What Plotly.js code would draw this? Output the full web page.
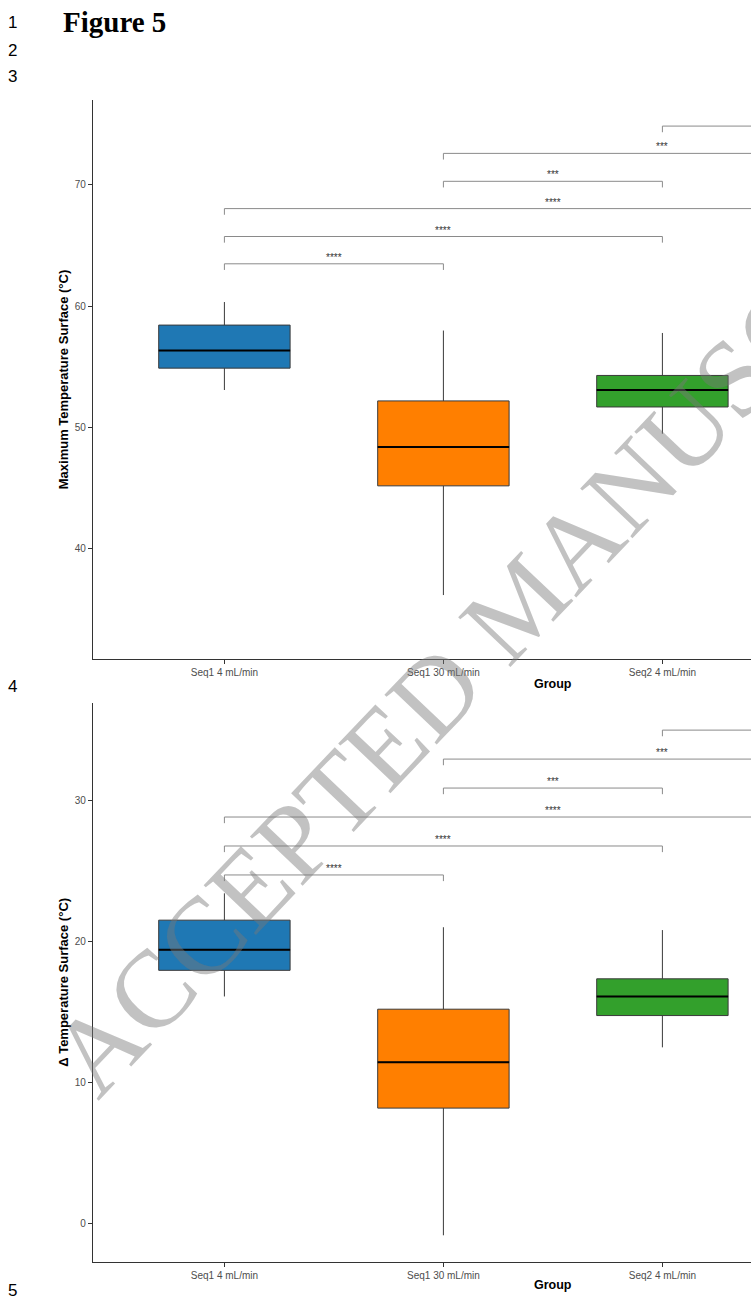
<!DOCTYPE html>
<html><head><meta charset="utf-8">
<script src="https://cdn.plot.ly/plotly-3.0.1.min.js"></script>
<style>html,body{margin:0;padding:0;background:#fff;overflow:hidden}#chart{width:751px;height:1299px}</style>
</head><body><div id="chart"></div>
<script>
// ---------- data ----------
const groups = ["Seq1 4 mL/min", "Seq1 30 mL/min", "Seq2 4 mL/min", "Seq2 30 mL/min"];
const groupColors = ["#1F78B4", "#FF7F00", "#33A02C", "#E31A1C"];

// Panel 1: Maximum Temperature Surface (°C) – box statistics (visible groups)
const maxLower  = [53.1, 36.2, 49.5];
const maxQ1     = [54.9, 45.2, 51.7];
const maxMedian = [56.35, 48.4, 53.1];
const maxQ3     = [58.45, 52.2, 54.3];
const maxUpper  = [60.35, 58.0, 57.8];

// Panel 2: Δ Temperature Surface (°C)
const dLower  = [16.1, -0.8, 12.5];
const dQ1     = [17.95, 8.2, 14.75];
const dMedian = [19.4, 11.45, 16.1];
const dQ3     = [21.5, 15.2, 17.35];
const dUpper  = [23.4, 21.0, 20.8];

// pairwise comparisons (indices into groups)
const cmpGroup1 = [0, 0, 0, 1, 1, 2];
const cmpGroup2 = [1, 2, 3, 2, 3, 3];
const cmpLabels = ["****", "****", "****", "***", "***", ""];   // last label lies outside the visible area
const maxCmpY   = [63.5, 65.75, 68.05, 70.3, 72.6, 74.85];
const dCmpY     = [24.7, 26.75, 28.8, 30.85, 32.9, 34.95];

const maxTicks = [40, 50, 60, 70];
const dTicks   = [0, 10, 20, 30];
const maxRange = [30.93, 77.0];
const dRange   = [-2.69, 36.89];

// ---------- layout geometry ----------
const W = 751, H = 1299, ML = 93, MR = 0, MT = 100, MB = 37;
const PW = W - ML - MR, PH = H - MT - MB;
const px2x = p => (p - ML) / PW;
const px2y = p => 1 - (p - MT) / PH;
const catPx = 219;                       // pixels per category
const xRange = [-0.6, -0.6 + PW / catPx];
const BOX_W = 0.6;
const FONT = "Liberation Sans, Arial, sans-serif";
const SERIF = "Liberation Serif, Times New Roman, serif";

function panel(ax, lower, q1, med, q3, upper) {
  const xa = ax === 1 ? "x" : "x2", ya = ax === 1 ? "y" : "y2";
  const traces = [];
  for (let i = 0; i < med.length; i++) {
    traces.push({
      type: "box", x: [i], q1: [q1[i]], median: [med[i]], q3: [q3[i]],
      lowerfence: [lower[i]], upperfence: [upper[i]],
      width: BOX_W, whiskerwidth: 0, fillcolor: groupColors[i],
      line: {color: "#3a3a3a", width: 1}, boxpoints: false,
      xaxis: xa, yaxis: ya, hoverinfo: "skip", showlegend: false
    });
  }
  const mx = [], my = [];
  med.forEach((m, i) => { mx.push(i - BOX_W / 2, i + BOX_W / 2, null); my.push(m, m, null); });
  traces.push({type: "scatter", mode: "lines", x: mx, y: my, xaxis: xa, yaxis: ya,
    line: {color: "#000", width: 2}, hoverinfo: "skip", showlegend: false});
  return traces;
}

const data = [
  ...panel(1, maxLower, maxQ1, maxMedian, maxQ3, maxUpper),
  ...panel(2, dLower, dQ1, dMedian, dQ3, dUpper)
];

const shapes = [], annotations = [];
function brackets(ax, levels, range) {
  const xa = ax === 1 ? "x" : "x2", ya = ax === 1 ? "y" : "y2";
  const tip = (range[1] - range[0]) * 0.011;
  for (let k = 0; k < levels.length; k++) {
    const a = cmpGroup1[k], b = cmpGroup2[k], y = levels[k];
    shapes.push({type: "path", xref: xa, yref: ya, layer: "above",
      path: `M ${a},${y - tip} L ${a},${y} L ${b},${y} L ${b},${y - tip}`,
      line: {color: "#8a8a8a", width: 1}});
    if (cmpLabels[k]) {
      annotations.push({xref: xa, yref: ya, x: (a + b) / 2, y: y, xanchor: "center", yanchor: "bottom", yshift: -1,
        text: cmpLabels[k], showarrow: false, font: {family: FONT, size: 10, color: "#333"}});
    }
  }
}
brackets(1, maxCmpY, maxRange);
brackets(2, dCmpY, dRange);

// x-axis titles (centred on the full category span)
const xMid = (-0.6 + (groups.length - 1) + 0.6) / 2;
annotations.push({xref: "x", yref: "paper", x: xMid, y: px2y(684), xanchor: "center", yanchor: "middle",
  text: "Group", showarrow: false, font: {family: FONT, size: 12.5, color: "#000", weight: "bold"}});
annotations.push({xref: "x2", yref: "paper", x: xMid, y: px2y(1285), xanchor: "center", yanchor: "middle",
  text: "Group", showarrow: false, font: {family: FONT, size: 12.5, color: "#000", weight: "bold"}});

// page furniture: line numbers and figure title
const lineNums = ["1", "2", "3", "4", "5"];
const lineNumY = [22, 50, 77, 686, 1290];
lineNums.forEach((t, i) => annotations.push({xref: "paper", yref: "paper", x: px2x(12), y: px2y(lineNumY[i]),
  xanchor: "center", yanchor: "middle", text: t, showarrow: false, font: {family: FONT, size: 17, color: "#000"}}));
annotations.push({xref: "paper", yref: "paper", x: px2x(61), y: px2y(22), xanchor: "left", yanchor: "middle",
  text: "<b>Figure 5</b>", showarrow: false, font: {family: SERIF, size: 29, color: "#000"}});

// watermark
annotations.push({xref: "paper", yref: "paper", x: px2x(520), y: px2y(603), xanchor: "center", yanchor: "middle",
  text: "ACCEPTED MANUSCRIPT", textangle: -46.5, showarrow: false,
  font: {family: SERIF, size: 110, color: "rgba(120,120,120,0.45)"}});

const xaxisBase = {
  range: xRange, tickvals: groups.map((g, i) => i), ticktext: groups,
  showline: true, linecolor: "#333", linewidth: 1.2, ticks: "outside", ticklen: 4, tickwidth: 1, tickcolor: "#333",
  showgrid: false, zeroline: false, tickfont: {family: FONT, size: 10, color: "#4d4d4d"}
};
const yaxisBase = {
  showline: true, linecolor: "#333", linewidth: 1.2, ticks: "outside", ticklen: 4, tickwidth: 1, tickcolor: "#333",
  showgrid: false, zeroline: false, tickfont: {family: FONT, size: 10, color: "#4d4d4d"}
};
const yTitleFont = {family: FONT, size: 13, color: "#000", weight: "bold"};

const layout = {
  width: W, height: H, margin: {l: ML, r: MR, t: MT, b: MB},
  paper_bgcolor: "#fff", plot_bgcolor: "#fff", showlegend: false, boxmode: "overlay",
  xaxis: Object.assign({}, xaxisBase, {domain: [0, 1], anchor: "y"}),
  xaxis2: Object.assign({}, xaxisBase, {domain: [0, 1], anchor: "y2"}),
  yaxis: Object.assign({}, yaxisBase, {domain: [px2y(659), 1], anchor: "x", range: maxRange, tickvals: maxTicks,
    title: {text: "Maximum Temperature Surface (°C)", standoff: 3, font: yTitleFont}}),
  yaxis2: Object.assign({}, yaxisBase, {domain: [0, px2y(702.7)], anchor: "x2", range: dRange, tickvals: dTicks,
    title: {text: "Δ Temperature Surface (°C)", standoff: 3, font: yTitleFont}}),
  shapes: shapes, annotations: annotations
};

Plotly.newPlot("chart", data, layout, {staticPlot: true, displayModeBar: false});
</script></body></html>
